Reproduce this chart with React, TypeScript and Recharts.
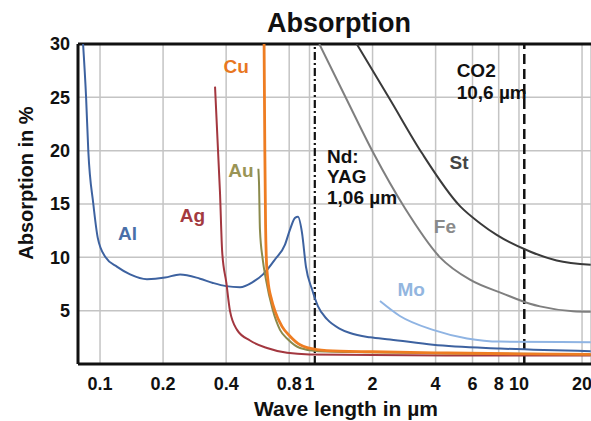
import { LineChart, Line, XAxis, YAxis, CartesianGrid, ReferenceLine, ReferenceDot } from "recharts";

const FONT = "'Liberation Sans', Arial, sans-serif";

const X_TICKS = [0.1, 0.2, 0.4, 0.8, 1, 2, 4, 6, 8, 10, 20];
const Y_TICKS = [5, 10, 15, 20, 25, 30];
const X_DOMAIN = [0.0785, 22.07];

// [wavelength in µm, absorption in %]
const AL = [
  [0.083, 30], [0.0858, 25], [0.0879, 20], [0.0929, 15], [0.0976, 11.8], [0.1063, 10],
  [0.1208, 9.1], [0.1392, 8.4], [0.1676, 7.95], [0.2043, 8.1], [0.241, 8.4], [0.3, 8.0],
  [0.346, 7.6], [0.3995, 7.3], [0.466, 7.2], [0.5374, 7.7], [0.6, 8.4], [0.684, 9.8],
  [0.764, 11.2], [0.807, 12.6], [0.853, 13.7], [0.881, 13.8], [0.921, 12.3], [0.962, 9.1],
  [1.028, 7.0], [1.098, 5.4], [1.212, 4.2], [1.398, 3.3], [1.561, 2.9], [1.945, 2.5],
  [2.423, 2.3], [3.886, 1.8], [8.117, 1.45], [22, 1.2],
];
const AG = [
  [0.354, 26], [0.374, 16], [0.383, 10.5], [0.401, 7.6], [0.417, 5], [0.451, 3.2],
  [0.52, 2.2], [0.627, 1.5], [0.781, 1.05], [1.0, 0.9], [2, 0.85], [5, 0.8], [22, 0.8],
];
const AU = [
  [0.57, 18.3], [0.574, 17], [0.58, 12.6], [0.598, 9.8], [0.62, 7.9], [0.667, 5.1],
  [0.723, 3.2], [0.79, 2.3], [0.901, 1.5], [1.098, 1.2], [2, 1.1], [4, 1.0], [10, 0.95], [22, 0.9],
];
const CU = [
  [0.607, 30], [0.612, 20], [0.617, 13], [0.622, 10], [0.632, 8], [0.66, 6], [0.683, 5],
  [0.74, 3.5], [0.807, 2.6], [0.901, 1.8], [1.086, 1.35], [1.398, 1.2], [2, 1.15],
  [4, 1.05], [10, 0.95], [22, 0.9],
];
const MO = [
  [2.17, 5.9], [2.7, 4.5], [3.886, 3.2], [5.65, 2.4], [8.117, 2.1], [22, 2.05],
];
const FE = [
  [1.114, 30], [1.505, 24.8], [2.016, 19.8], [2.856, 14.6], [4.197, 10],
  [5.835, 7.9], [8.387, 6.6], [11.28, 5.65], [12.6, 5.4], [18.1, 4.95], [22, 4.9],
];
const ST = [
  [1.68, 30], [2.423, 24.8], [3.433, 19.8], [5.229, 14.8], [6.514, 13.2], [7.826, 12.1],
  [11.28, 10.55], [15.13, 9.7], [22, 9.3],
];

const SERIES = [
  { name: "Fe", points: FE, color: "#7f7f7f", width: 2 },
  { name: "St", points: ST, color: "#3a3a3a", width: 2 },
  { name: "Mo", points: MO, color: "#8fb4e3", width: 2 },
  { name: "Al", points: AL, color: "#3d62a0", width: 2 },
  { name: "Ag", points: AG, color: "#a3373f", width: 2 },
  { name: "Au", points: AU, color: "#8b8a4c", width: 2 },
  { name: "Cu", points: CU, color: "#ee7d22", width: 2.8 },
];

// text, x (µm), y (%), colour, anchor
const LABELS = [
  { text: "Al", x: 0.1353, y: 12.26, color: "#4a6fa8", pos: "center" },
  { text: "Ag", x: 0.276, y: 13.9, color: "#a33a3f", pos: "center" },
  { text: "Au", x: 0.471, y: 18.2, color: "#9a9455", pos: "center" },
  { text: "Cu", x: 0.447, y: 27.9, color: "#e8771f", pos: "center" },
  { text: "Mo", x: 3.06, y: 7.0, color: "#93b6df", pos: "center" },
  { text: "Fe", x: 4.43, y: 12.9, color: "#8a8a8a", pos: "center" },
  { text: "St", x: 5.17, y: 18.9, color: "#444444", pos: "center" },
  { text: "Nd:", x: 1.212, y: 19.5, color: "#111111", pos: "right" },
  { text: "YAG", x: 1.212, y: 17.6, color: "#111111", pos: "right" },
  { text: "1,06 µm", x: 1.212, y: 15.6, color: "#111111", pos: "right" },
  { text: "CO2", x: 5.04, y: 27.5, color: "#111111", pos: "right" },
  { text: "10,6 µm", x: 5.04, y: 25.5, color: "#111111", pos: "right" },
];

const ND_YAG = 1.06;
const CO2 = 10.6;

const toRows = (pts: number[][]) => pts.map(([x, y]) => ({ x, y }));

const tickStyle = { fontSize: 18, fontWeight: "bold", fill: "#111", fontFamily: FONT };

export default function App() {
  return (
    <div style={{ position: "absolute", left: 0, top: 0, width: 591, height: 421, background: "#fff", fontFamily: FONT, overflow: "hidden" }}>
      <div style={{ position: "absolute", left: 239, top: 10, width: 200, textAlign: "center", fontSize: 27, lineHeight: "27px", fontWeight: "bold", color: "#111" }}>
        Absorption
      </div>
      <div style={{ position: "absolute", left: 246, top: 398, width: 200, textAlign: "center", fontSize: 21, lineHeight: "21px", fontWeight: "bold", color: "#111", whiteSpace: "nowrap" }}>
        Wave length in µm
      </div>
      <div style={{ position: "absolute", left: 25.5, top: 183, transform: "translate(-50%, -50%) rotate(-90deg)", fontSize: 20, lineHeight: "20px", fontWeight: "bold", color: "#111", whiteSpace: "nowrap" }}>
        Absorption in %
      </div>

      <LineChart width={591} height={421} margin={{ top: 44, right: 0, bottom: 0, left: 0 }} style={{ position: "absolute", left: 0, top: 0 }}>
        <CartesianGrid stroke="#c4c4c4" strokeWidth={1.5} />
        <XAxis
          dataKey="x"
          type="number"
          scale="log"
          domain={X_DOMAIN}
          allowDataOverflow
          ticks={X_TICKS}
          tickFormatter={(v: number) => String(v)}
          interval={0}
          height={57}
          tickLine={false}
          tickSize={0}
          tickMargin={13}
          tick={tickStyle}
          axisLine={{ stroke: "#111", strokeWidth: 3 }}
        />
        <YAxis
          type="number"
          domain={[0, 30]}
          allowDataOverflow
          ticks={Y_TICKS}
          interval={0}
          width={78}
          tickLine={false}
          tickSize={0}
          tickMargin={8}
          tick={tickStyle}
          axisLine={{ stroke: "#111", strokeWidth: 3 }}
        />
        <ReferenceLine y={30} stroke="#111" strokeWidth={3} />
        <ReferenceLine x={ND_YAG} stroke="#111" strokeWidth={2.2} strokeDasharray="8 3 2 3" />
        <ReferenceLine x={CO2} stroke="#111" strokeWidth={2.5} strokeDasharray="10 5" />

        {SERIES.map((s) => (
          <Line
            key={s.name}
            data={toRows(s.points)}
            dataKey="y"
            type="monotone"
            stroke={s.color}
            strokeWidth={s.width}
            dot={false}
            activeDot={false}
            isAnimationActive={false}
          />
        ))}

        {LABELS.map((l) => (
          <ReferenceDot
            key={l.text}
            x={l.x}
            y={l.y}
            r={0}
            fill="none"
            stroke="none"
            label={{
              value: l.text,
              position: l.pos,
              offset: 0,
              fill: l.color,
              fontSize: 19,
              fontWeight: "bold",
              fontFamily: FONT,
            }}
          />
        ))}
      </LineChart>
    </div>
  );
}
